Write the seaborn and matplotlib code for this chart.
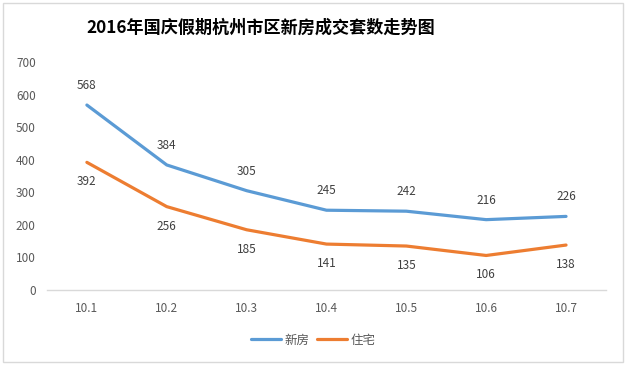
import matplotlib
matplotlib.use("Agg")
import matplotlib.pyplot as plt
import pandas as pd
import seaborn as sns
from matplotlib.patches import Rectangle

# data
days = ['10.1', '10.2', '10.3', '10.4', '10.5', '10.6', '10.7']
xinfang = [568, 384, 305, 245, 242, 216, 226]   # 新房
zhuzhai = [392, 256, 185, 141, 135, 106, 138]   # 住宅
series_names = ['新房', '住宅']
colors = ['#5B9BD5', '#ED7D31']

df = pd.DataFrame({
    'day': days * 2,
    'count': xinfang + zhuzhai,
    'kind': [series_names[0]] * len(days) + [series_names[1]] * len(days),
})

sns.set_theme(style='white')
plt.rcParams['font.family'] = ['Noto Sans CJK SC', 'DejaVu Sans']

fig = plt.figure(figsize=(6.26, 3.65), dpi=100)
ax = fig.add_axes([0.075, 0.2055, 0.893, 0.6245])

sns.lineplot(data=df, x='day', y='count', hue='kind', palette=colors,
             linewidth=2.3, sort=False, ax=ax, legend=False)

ax.set_xlim(-0.5, len(days) - 0.5)
ax.set_ylim(0, 700)
ax.set_yticks(range(0, 701, 100))
ax.set_xlabel('')
ax.set_ylabel('')
for s in ['top', 'right', 'left']:
    ax.spines[s].set_visible(False)
ax.spines['bottom'].set_color('#D9D9D9')
ax.spines['bottom'].set_linewidth(1)
ax.tick_params(axis='both', length=0, labelsize=8.5, labelcolor='#595959')
ax.tick_params(axis='y', pad=8)
ax.tick_params(axis='x', pad=9)

# data labels: blue above, orange below
for i, (a, b) in enumerate(zip(xinfang, zhuzhai)):
    ax.annotate(str(a), (i, a), xytext=(0, 14), textcoords='offset points',
                ha='center', va='center', fontsize=8.5, color='#404040')
    ax.annotate(str(b), (i, b), xytext=(0, -14), textcoords='offset points',
                ha='center', va='center', fontsize=8.5, color='#404040')

handles = [plt.Line2D([], [], color=c, linewidth=2.3) for c in colors]
fig.legend(handles, series_names, loc='center', bbox_to_anchor=(0.5, 0.068),
           ncol=2, frameon=False, fontsize=9, handlelength=2.4,
           columnspacing=0.6, handletextpad=0.3, labelcolor='#595959')

fig.text(0.417, 0.923, '2016年国庆假期杭州市区新房成交套数走势图',
         ha='center', va='center', fontsize=12.3, fontweight='bold', color='#000000')

fig.patches.append(Rectangle((0.005, 0.008), 0.99, 0.984, transform=fig.transFigure,
                             fill=False, edgecolor='#D9D9D9', linewidth=1))

fig.savefig('out.png', dpi=100)
